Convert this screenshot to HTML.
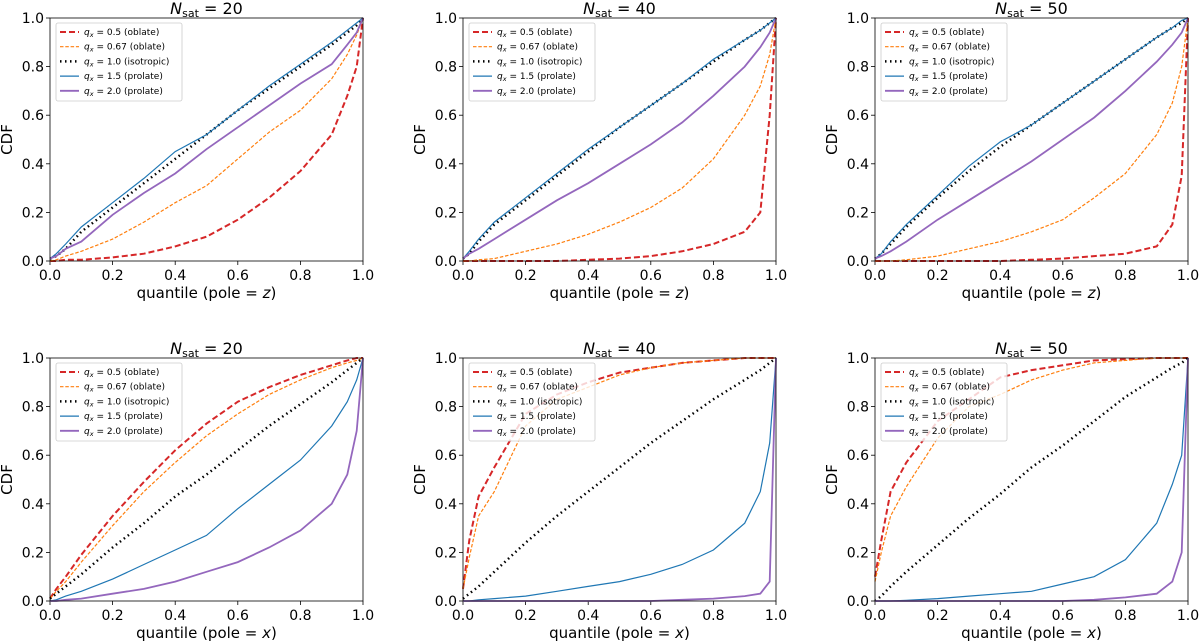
<!DOCTYPE html>
<html><head><meta charset="utf-8"><style>
body{margin:0;background:#fff;}
svg{display:block;font-family:"DejaVu Sans","Liberation Sans",sans-serif;}
</style></head><body>
<svg id="fig" width="1200" height="642" viewBox="0 0 1200 642" xmlns="http://www.w3.org/2000/svg"></svg>
<script>
const quantiles = [0,0.02,0.05,0.1,0.2,0.3,0.4,0.5,0.6,0.7,0.8,0.9,0.95,0.98,1.0];
const seriesLabels = ["q_x = 0.5 (oblate)","q_x = 0.67 (oblate)","q_x = 1.0 (isotropic)","q_x = 1.5 (prolate)","q_x = 2.0 (prolate)"];
const panelTitles = ["20","40","50","20","40","50"];
const poleLabels = ["z","z","z","x","x","x"];
const tickLabels = ["0.0","0.2","0.4","0.6","0.8","1.0"];
const p1 = [
 [0,0,0.005,0.005,0.015,0.03,0.06,0.10,0.17,0.26,0.37,0.52,0.68,0.80,1],
 [0,0.005,0.02,0.04,0.09,0.16,0.24,0.31,0.42,0.53,0.62,0.75,0.85,0.93,1],
 [0.01,0.02,0.05,0.12,0.22,0.32,0.42,0.52,0.62,0.71,0.80,0.89,0.94,0.97,1],
 [0.01,0.03,0.07,0.14,0.24,0.34,0.45,0.52,0.62,0.72,0.81,0.90,0.95,0.98,1],
 [0.01,0.02,0.05,0.08,0.19,0.28,0.36,0.46,0.55,0.64,0.73,0.81,0.89,0.94,1]];
const p2 = [
 [0,0,0,0,0,0,0.005,0.01,0.02,0.04,0.07,0.12,0.2,0.6,1],
 [0,0,0.005,0.01,0.04,0.07,0.11,0.16,0.22,0.30,0.42,0.60,0.72,0.85,1],
 [0.01,0.03,0.08,0.15,0.25,0.35,0.45,0.55,0.64,0.73,0.82,0.91,0.95,0.98,1],
 [0.01,0.04,0.09,0.16,0.26,0.36,0.46,0.55,0.64,0.73,0.83,0.91,0.95,0.98,1],
 [0.01,0.03,0.05,0.09,0.17,0.25,0.32,0.40,0.48,0.57,0.68,0.80,0.88,0.94,1]];
const p3 = [
 [0,0,0,0,0,0,0,0.005,0.01,0.02,0.03,0.06,0.15,0.35,1],
 [0,0,0,0.005,0.02,0.05,0.08,0.12,0.17,0.26,0.36,0.52,0.65,0.8,1],
 [0.01,0.03,0.07,0.14,0.26,0.37,0.47,0.56,0.65,0.74,0.83,0.92,0.96,0.98,1],
 [0.01,0.03,0.08,0.15,0.27,0.39,0.49,0.56,0.65,0.74,0.83,0.92,0.96,0.99,1],
 [0.01,0.02,0.04,0.08,0.17,0.25,0.33,0.41,0.50,0.59,0.70,0.82,0.89,0.94,1]];
const p4 = [
 [0.01,0.05,0.10,0.19,0.35,0.49,0.62,0.73,0.82,0.88,0.93,0.97,0.99,1,1],
 [0.01,0.04,0.08,0.16,0.31,0.45,0.57,0.68,0.77,0.85,0.91,0.96,0.98,0.99,1],
 [0.01,0.03,0.06,0.11,0.22,0.32,0.43,0.52,0.62,0.72,0.81,0.90,0.95,0.98,1],
 [0,0.005,0.02,0.04,0.09,0.15,0.21,0.27,0.38,0.48,0.58,0.72,0.82,0.91,1],
 [0,0,0.005,0.01,0.03,0.05,0.08,0.12,0.16,0.22,0.29,0.40,0.52,0.70,1]];
const p5 = [
 [0.05,0.25,0.43,0.55,0.77,0.85,0.90,0.94,0.96,0.98,0.99,1,1,1,1],
 [0.05,0.18,0.35,0.45,0.72,0.83,0.88,0.93,0.96,0.98,0.99,1,1,1,1],
 [0.01,0.03,0.06,0.12,0.24,0.35,0.45,0.55,0.65,0.74,0.83,0.91,0.95,0.98,1],
 [0,0,0.005,0.01,0.02,0.04,0.06,0.08,0.11,0.15,0.21,0.32,0.45,0.65,1],
 [0,0,0,0,0,0,0,0,0,0.005,0.01,0.02,0.03,0.08,1]];
const p6 = [
 [0.1,0.25,0.45,0.57,0.74,0.83,0.92,0.95,0.97,0.99,0.995,1,1,1,1],
 [0.08,0.2,0.35,0.47,0.67,0.80,0.85,0.91,0.95,0.98,0.99,1,1,1,1],
 [0,0.02,0.06,0.12,0.23,0.34,0.44,0.55,0.64,0.74,0.84,0.92,0.96,0.98,1],
 [0,0,0,0.003,0.01,0.02,0.03,0.04,0.07,0.10,0.17,0.32,0.48,0.6,1],
 [0,0,0,0,0,0,0,0,0,0.005,0.015,0.03,0.08,0.2,1]];
const panelData = [p1,p2,p3,p4,p5,p6];

const styles = [
 {c:"#d62728",w:2,d:"6,3"},
 {c:"#ff7f0e",w:1.2,d:"3.5,1.8"},
 {c:"#000",w:2.5,d:"1.5,3.5"},
 {c:"#1f77b4",w:1.2,d:""},
 {c:"#9467bd",w:1.8,d:""}];
const NS="http://www.w3.org/2000/svg";
const svg=document.getElementById('fig');
function mk(tag,attrs,parent){const e=document.createElementNS(NS,tag);for(const k in attrs)e.setAttribute(k,attrs[k]);(parent||svg).appendChild(e);return e;}
const lefts=[50,463,875], tops=[18,358], W=313, H=243;
panelData.forEach((data,pi)=>{
  const L=lefts[pi%3], T=tops[Math.floor(pi/3)];
  const xs=v=>L+v*W, ys=v=>T+H-v*H;
  const g=mk('g',{});
  
  
  tickLabels.forEach(t=>{
    const v=parseFloat(t);
    mk('line',{x1:xs(v),x2:xs(v),y1:T+H,y2:T+H+4,stroke:'#000','stroke-width':0.8},g);
    mk('line',{x1:L-4,x2:L,y1:ys(v),y2:ys(v),stroke:'#000','stroke-width':0.8},g);
    const tx=mk('text',{x:xs(v),y:T+H+19,'font-size':14,'text-anchor':'middle'},g);tx.textContent=t;
    
    const ty=mk('text',{x:L-6,y:ys(v)+5,'font-size':14,'text-anchor':'end'},g);ty.textContent=t;
    
  });
  data.forEach((ser,si)=>{
    const s=styles[si];
    const pts=quantiles.map((q,i)=>xs(q).toFixed(1)+','+ys(ser[i]).toFixed(1)).join(' ');
    const pl=mk('polyline',{points:pts,fill:'none',stroke:s.c,'stroke-width':s.w,'stroke-dasharray':s.d},g);
    
    
  });
  mk('rect',{x:L,y:T,width:W,height:H,fill:'none',stroke:'#000','stroke-width':0.8},g);
  const lg=mk('g',{},g);
  
  
  mk('rect',{x:L+6,y:T+5,width:126,height:78,fill:'#fff','fill-opacity':0.8,stroke:'#ccc','stroke-width':0.8,rx:2},lg);
  seriesLabels.forEach((lab,si)=>{
    const s=styles[si], y=T+14+si*14.7;
    mk('line',{x1:L+10,x2:L+29,y1:y,y2:y,stroke:s.c,'stroke-width':s.w,'stroke-dasharray':s.d},lg);
    const t=mk('text',{x:L+34,y:y+3,'font-size':9},lg);
    
    const parts=lab.split(' = ');
    t.innerHTML='<tspan font-style="italic">q</tspan><tspan font-size="6.5" font-style="italic" dy="2">x</tspan><tspan dy="-2"> = '+parts[1]+'</tspan>';
  });
  const ti=mk('text',{x:L+W/2,y:T-4,'font-size':16,'text-anchor':'middle'},g);
  
  ti.innerHTML='<tspan font-style="italic">N</tspan><tspan font-size="11" dy="3">sat</tspan><tspan dy="-3"> = '+panelTitles[pi]+'</tspan>';
  const xl=mk('text',{x:L+W/2,y:T+H+37,'font-size':15,'text-anchor':'middle'},g);
  
  xl.innerHTML='quantile (pole = <tspan font-style="italic">'+poleLabels[pi]+'</tspan>)';
  const yl=mk('text',{x:0,y:0,'font-size':15,'text-anchor':'middle',transform:'translate('+(L-38)+','+(T+H/2)+') rotate(-90)'},g);
  
  yl.textContent='CDF';
});
</script>
</body></html>
